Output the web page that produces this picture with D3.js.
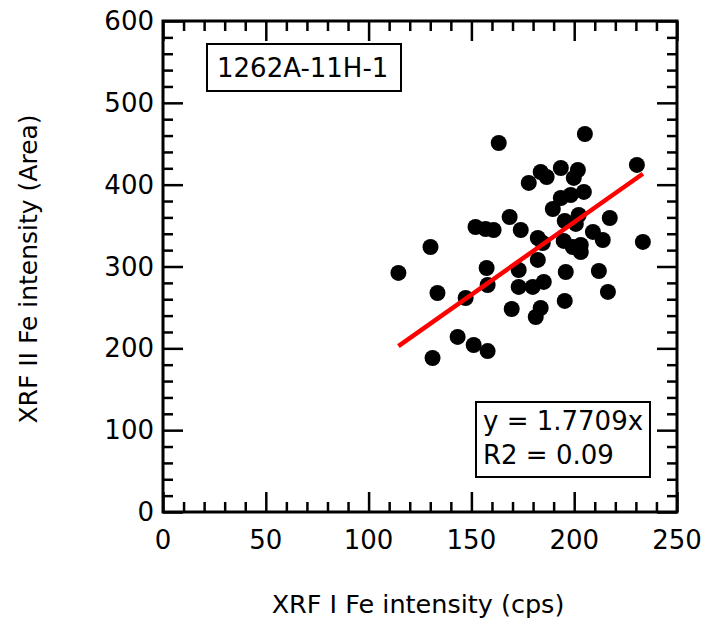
<!DOCTYPE html>
<html>
<head>
<meta charset="utf-8">
<script src="https://cdn.jsdelivr.net/npm/d3@7.9.0/dist/d3.min.js"></script>
<style>
  body { margin: 0; background: #fff; }
  svg { display: block; font-family: "DejaVu Sans", sans-serif; }
</style>
</head>
<body>
<div id="chart"></div>
<script>
// XRF I Fe intensity (cps)
const xValues = [
  163.3, 205.2, 230.5, 183.7, 186.6, 193.5, 201.8, 199.8, 177.9, 204.7,
  198.3, 193.5, 189.6, 202.2, 195.4, 217.3, 168.6, 152.0, 156.9, 160.8,
  174.0, 182.3, 184.7, 209.1, 213.9, 194.9, 199.3, 203.2, 203.2, 200.8,
  233.4, 130.1, 114.5, 157.4, 173.0, 182.3, 195.9, 212.0, 157.9, 173.0,
  179.8, 185.2, 133.5, 147.2, 216.4, 195.4, 169.6, 183.7, 181.3, 143.3,
  151.1, 157.9, 131.1
];
// XRF II Fe intensity (Area)
const yValues = [
  450.9, 461.9, 424.1, 415.5, 409.4, 420.4, 417.9, 408.2, 402.1, 391.1,
  387.4, 383.7, 370.3, 362.9, 355.6, 359.3, 360.5, 348.3, 345.8, 344.6,
  344.6, 334.8, 328.7, 342.2, 332.4, 331.2, 323.8, 326.3, 317.7, 352.0,
  330.0, 323.8, 292.1, 298.2, 295.7, 308.0, 293.3, 294.5, 277.4, 275.0,
  275.0, 281.1, 267.6, 261.5, 268.9, 257.9, 248.1, 249.3, 238.3, 213.9,
  204.1, 196.7, 188.2
];
const slope = 1.7709;
const xTicks = [0, 50, 100, 150, 200, 250];
const yTicks = [0, 100, 200, 300, 400, 500, 600];
const sampleLabel = '1262A-11H-1';
const fitLines = ['y = 1.7709x', 'R2 = 0.09'];

const points = xValues.map((x, i) => ({ x, y: yValues[i] }));

const width = 706, height = 628;
const plotL = 163, plotR = 677, plotT = 21, plotB = 512;

const svg = d3.select('#chart').append('svg')
  .attr('width', width)
  .attr('height', height);

const x = d3.scaleLinear().domain([0, 250]).range([plotL, plotR]);
const y = d3.scaleLinear().domain([0, 600]).range([plotB, plotT]);

const xMinor = d3.range(0, 251, 10).filter(v => v % 50 !== 0);
const yMinor = d3.range(0, 601, 20).filter(v => v % 100 !== 0);

// inward ticks on all four sides
function ticks(axis, vals, len) {
  return axis.tickValues(vals).tickSize(-len).tickFormat('');
}
const frame = svg.append('g').attr('class', 'frame');
frame.append('g').attr('transform', `translate(0,${plotB})`).call(ticks(d3.axisBottom(x), xTicks, 20));
frame.append('g').attr('transform', `translate(0,${plotB})`).call(ticks(d3.axisBottom(x), xMinor, 10));
frame.append('g').attr('transform', `translate(0,${plotT})`).call(ticks(d3.axisTop(x), xTicks, 20));
frame.append('g').attr('transform', `translate(0,${plotT})`).call(ticks(d3.axisTop(x), xMinor, 10));
frame.append('g').attr('transform', `translate(${plotL},0)`).call(ticks(d3.axisLeft(y), yTicks, 20));
frame.append('g').attr('transform', `translate(${plotL},0)`).call(ticks(d3.axisLeft(y), yMinor, 10));
frame.append('g').attr('transform', `translate(${plotR},0)`).call(ticks(d3.axisRight(y), yTicks, 20));
frame.append('g').attr('transform', `translate(${plotR},0)`).call(ticks(d3.axisRight(y), yMinor, 10));
frame.selectAll('.domain').remove();
frame.selectAll('line').attr('stroke', '#000').attr('stroke-width', 2.5);

frame.append('rect')
  .attr('x', plotL).attr('y', plotT)
  .attr('width', plotR - plotL).attr('height', plotB - plotT)
  .attr('fill', 'none').attr('stroke', '#000').attr('stroke-width', 3);

// tick labels
svg.append('g').selectAll('text').data(xTicks).join('text')
  .attr('x', d => x(d)).attr('y', plotB + 37)
  .attr('text-anchor', 'middle').attr('font-size', 26)
  .text(d => d);
svg.append('g').selectAll('text').data(yTicks).join('text')
  .attr('x', plotL - 9).attr('y', d => y(d) + 9)
  .attr('text-anchor', 'end').attr('font-size', 26)
  .text(d => d);

// axis titles
svg.append('text')
  .attr('x', 418).attr('y', 613)
  .attr('text-anchor', 'middle').attr('font-size', 25.5)
  .text('XRF I Fe intensity (cps)');
svg.append('text')
  .attr('transform', `translate(37,269) rotate(-90)`)
  .attr('text-anchor', 'middle').attr('font-size', 25)
  .text('XRF II Fe intensity (Area)');

// points
svg.append('g').selectAll('circle').data(points).join('circle')
  .attr('cx', d => x(d.x)).attr('cy', d => y(d.y))
  .attr('r', 8).attr('fill', '#000');

// regression line through origin, drawn over the data range
const [xmin, xmax] = d3.extent(xValues);
svg.append('line')
  .attr('x1', x(xmin)).attr('y1', y(slope * xmin))
  .attr('x2', x(xmax)).attr('y2', y(slope * xmax))
  .attr('stroke', '#ff0000').attr('stroke-width', 4.5);

// sample label box
svg.append('rect')
  .attr('x', 207).attr('y', 44).attr('width', 194).attr('height', 47)
  .attr('fill', '#fff').attr('stroke', '#000').attr('stroke-width', 2);
svg.append('text')
  .attr('x', 217).attr('y', 77)
  .attr('font-size', 26)
  .text(sampleLabel);

// fit box
svg.append('rect')
  .attr('x', 476).attr('y', 402).attr('width', 174).attr('height', 75)
  .attr('fill', '#fff').attr('stroke', '#000').attr('stroke-width', 2);
svg.append('g').selectAll('text').data(fitLines).join('text')
  .attr('x', 483).attr('y', (d, i) => 430 + i * 34)
  .attr('font-size', 26)
  .text(d => d);
</script>
</body>
</html>
